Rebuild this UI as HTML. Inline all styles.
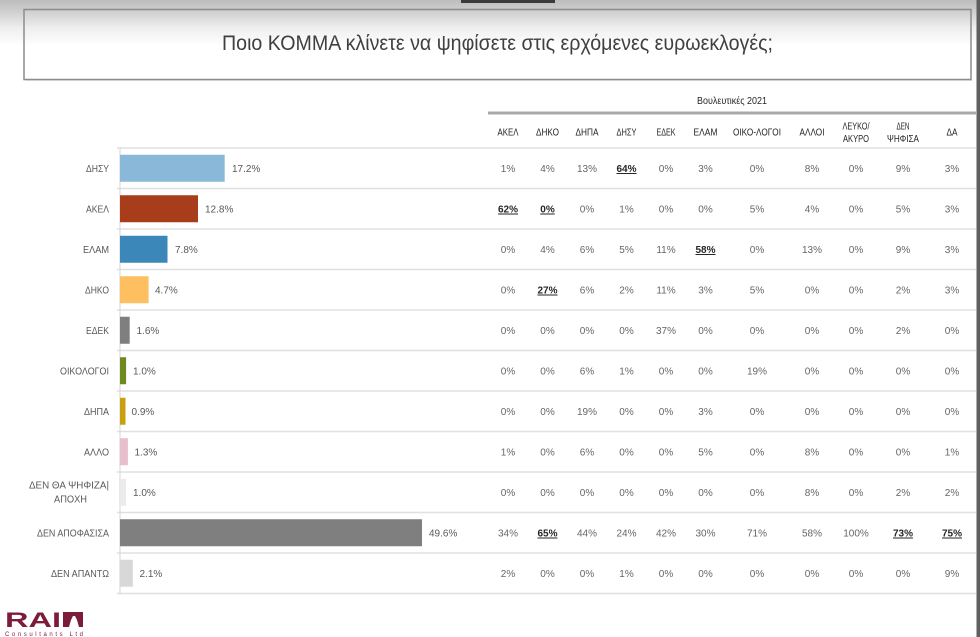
<!DOCTYPE html>
<html><head><meta charset="utf-8"><style>
html,body{margin:0;padding:0;background:#fff;}
svg{display:block;}
text{font-family:"Liberation Sans",sans-serif;}
.lab{font-size:10.5px;fill:#595959;text-anchor:end;}
.val{font-size:10px;fill:#595959;}
.cell{font-size:10px;fill:#666;text-anchor:middle;}
.b{font-weight:bold;fill:#262626;text-decoration:underline;}
.hd{font-size:10.5px;fill:#262626;text-anchor:middle;}
</style></head><body>
<svg width="980" height="637" viewBox="0 0 980 637" xmlns="http://www.w3.org/2000/svg">
<defs>
<linearGradient id="bg" x1="0" y1="0" x2="0" y2="1">
<stop offset="0" stop-color="#bdbdbd"/>
<stop offset="0.25" stop-color="#cfcfcf"/>
<stop offset="0.6" stop-color="#eeeeee"/>
<stop offset="1" stop-color="#ffffff"/>
</linearGradient>
</defs>
<rect x="0" y="0" width="980" height="637" fill="#fff"/>
<rect x="0" y="0" width="980" height="46" fill="url(#bg)"/>
<rect x="461" y="0" width="94" height="3" fill="#3a3a3a"/>
<rect x="976.5" y="0" width="3.5" height="637" fill="#5f5f5f"/>
<!-- title box -->
<rect x="24" y="9.5" width="947" height="70" fill="none" stroke="#8c8c8c" stroke-width="1.5"/>
<line x1="25" y1="80.5" x2="972" y2="80.5" stroke="#d0d0d0" stroke-width="1"/>
<text x="497.5" y="50" font-size="21" fill="#404040" text-anchor="middle" textLength="551" lengthAdjust="spacingAndGlyphs">Ποιο ΚΟΜΜΑ κλίνετε να ψηφίσετε στις ερχόμενες ευρωεκλογές;</text>

<!-- table header -->
<text x="732" y="104" font-size="10" fill="#262626" text-anchor="middle" textLength="70" lengthAdjust="spacingAndGlyphs">Βουλευτικές 2021</text>
<line x1="488" y1="113" x2="976" y2="113" stroke="#a8a8a8" stroke-width="3"/>
<text class="hd" x="508" y="135.5" textLength="21" lengthAdjust="spacingAndGlyphs">ΑΚΕΛ</text>
<text class="hd" x="547.5" y="135.5" textLength="23" lengthAdjust="spacingAndGlyphs">ΔΗΚΟ</text>
<text class="hd" x="587" y="135.5" textLength="23" lengthAdjust="spacingAndGlyphs">ΔΗΠΑ</text>
<text class="hd" x="626.5" y="135.5" textLength="20" lengthAdjust="spacingAndGlyphs">ΔΗΣΥ</text>
<text class="hd" x="666" y="135.5" textLength="19" lengthAdjust="spacingAndGlyphs">ΕΔΕΚ</text>
<text class="hd" x="705.5" y="135.5" textLength="24" lengthAdjust="spacingAndGlyphs">ΕΛΑΜ</text>
<text class="hd" x="757" y="135.5" textLength="48" lengthAdjust="spacingAndGlyphs">ΟΙΚΟ-ΛΟΓΟΙ</text>
<text class="hd" x="812" y="135.5" textLength="25" lengthAdjust="spacingAndGlyphs">ΑΛΛΟΙ</text>
<text class="hd" x="856" y="129.5" textLength="27" lengthAdjust="spacingAndGlyphs">ΛΕΥΚΟ/</text>
<text class="hd" x="856" y="142" textLength="26" lengthAdjust="spacingAndGlyphs">ΑΚΥΡΟ</text>
<text class="hd" x="903" y="129.5" textLength="13" lengthAdjust="spacingAndGlyphs">ΔΕΝ</text>
<text class="hd" x="903" y="142" textLength="32" lengthAdjust="spacingAndGlyphs">ΨΗΦΙΣΑ</text>
<text class="hd" x="952" y="135.5" textLength="11" lengthAdjust="spacingAndGlyphs">ΔΑ</text>

<!-- separators -->
<g stroke="#e0e0e0" stroke-width="1.5">
<line x1="117" y1="148" x2="976" y2="148"/>
<line x1="117" y1="188.5" x2="976" y2="188.5"/>
<line x1="117" y1="229" x2="976" y2="229"/>
<line x1="117" y1="269.5" x2="976" y2="269.5"/>
<line x1="117" y1="310" x2="976" y2="310"/>
<line x1="117" y1="350.5" x2="976" y2="350.5"/>
<line x1="117" y1="391" x2="976" y2="391"/>
<line x1="117" y1="431.5" x2="976" y2="431.5"/>
<line x1="117" y1="472" x2="976" y2="472"/>
<line x1="117" y1="512.5" x2="976" y2="512.5"/>
<line x1="117" y1="553" x2="976" y2="553"/>
<line x1="117" y1="593.5" x2="976" y2="593.5"/>
</g>
<line x1="120" y1="148" x2="120" y2="594" stroke="#d6d6d6" stroke-width="1"/>

<!-- bars -->
<rect x="120" y="154.75" width="104.7" height="27" fill="#8ab8d8"/>
<rect x="120" y="195.25" width="78" height="27" fill="#a73d1b"/>
<rect x="120" y="235.75" width="47.5" height="27" fill="#3b87b9"/>
<rect x="120" y="276.25" width="28.6" height="27" fill="#fdbf60"/>
<rect x="120" y="316.75" width="9.7" height="27" fill="#7f7f7f"/>
<rect x="120" y="357.25" width="6.1" height="27" fill="#6e8a1f"/>
<rect x="120" y="397.75" width="5.5" height="27" fill="#c9a00e"/>
<rect x="120" y="438.25" width="7.9" height="27" fill="#e6bfcb"/>
<rect x="120" y="478.75" width="6.1" height="27" fill="#ebebeb"/>
<rect x="120" y="519.25" width="302" height="27" fill="#7f7f7f"/>
<rect x="120" y="559.75" width="12.8" height="27" fill="#d8d8d8"/>

<!-- bar values -->
<text class="val" x="232" y="172">17.2%</text>
<text class="val" x="205" y="212.5">12.8%</text>
<text class="val" x="175" y="253">7.8%</text>
<text class="val" x="155" y="293.5">4.7%</text>
<text class="val" x="136.5" y="334">1.6%</text>
<text class="val" x="133" y="374.5">1.0%</text>
<text class="val" x="131.5" y="415">0.9%</text>
<text class="val" x="134.5" y="455.5">1.3%</text>
<text class="val" x="133" y="496">1.0%</text>
<text class="val" x="429" y="536.5">49.6%</text>
<text class="val" x="139.5" y="577">2.1%</text>

<!-- row labels -->
<text class="lab" x="109" y="172" textLength="23" lengthAdjust="spacingAndGlyphs">ΔΗΣΥ</text>
<text class="lab" x="109" y="212.5" textLength="23" lengthAdjust="spacingAndGlyphs">ΑΚΕΛ</text>
<text class="lab" x="109" y="253" textLength="26" lengthAdjust="spacingAndGlyphs">ΕΛΑΜ</text>
<text class="lab" x="109" y="293.5" textLength="24" lengthAdjust="spacingAndGlyphs">ΔΗΚΟ</text>
<text class="lab" x="109" y="334" textLength="23" lengthAdjust="spacingAndGlyphs">ΕΔΕΚ</text>
<text class="lab" x="109" y="374.5" textLength="49" lengthAdjust="spacingAndGlyphs">ΟΙΚΟΛΟΓΟΙ</text>
<text class="lab" x="109" y="415" textLength="25" lengthAdjust="spacingAndGlyphs">ΔΗΠΑ</text>
<text class="lab" x="109" y="455.5" textLength="25" lengthAdjust="spacingAndGlyphs">ΑΛΛΟ</text>
<text class="lab" x="109" y="488.5" textLength="80" lengthAdjust="spacingAndGlyphs">ΔΕΝ ΘΑ ΨΗΦΙΖΑ|</text>
<text class="lab" x="87" y="502.5" textLength="33" lengthAdjust="spacingAndGlyphs">ΑΠΟΧΗ</text>
<text class="lab" x="109" y="536.5" textLength="72" lengthAdjust="spacingAndGlyphs">ΔΕΝ ΑΠΟΦΑΣΙΣΑ</text>
<text class="lab" x="109" y="577" textLength="58" lengthAdjust="spacingAndGlyphs">ΔΕΝ ΑΠΑΝΤΩ</text>

<!-- table values -->
<g>
<text class="cell" x="508" y="172">1%</text><text class="cell" x="547.5" y="172">4%</text><text class="cell" x="587" y="172">13%</text><text class="cell b" x="626.5" y="172">64%</text><text class="cell" x="666" y="172">0%</text><text class="cell" x="705.5" y="172">3%</text><text class="cell" x="757" y="172">0%</text><text class="cell" x="812" y="172">8%</text><text class="cell" x="856" y="172">0%</text><text class="cell" x="903" y="172">9%</text><text class="cell" x="952" y="172">3%</text>

<text class="cell b" x="508" y="212.5">62%</text><text class="cell b" x="547.5" y="212.5">0%</text><text class="cell" x="587" y="212.5">0%</text><text class="cell" x="626.5" y="212.5">1%</text><text class="cell" x="666" y="212.5">0%</text><text class="cell" x="705.5" y="212.5">0%</text><text class="cell" x="757" y="212.5">5%</text><text class="cell" x="812" y="212.5">4%</text><text class="cell" x="856" y="212.5">0%</text><text class="cell" x="903" y="212.5">5%</text><text class="cell" x="952" y="212.5">3%</text>

<text class="cell" x="508" y="253">0%</text><text class="cell" x="547.5" y="253">4%</text><text class="cell" x="587" y="253">6%</text><text class="cell" x="626.5" y="253">5%</text><text class="cell" x="666" y="253">11%</text><text class="cell b" x="705.5" y="253">58%</text><text class="cell" x="757" y="253">0%</text><text class="cell" x="812" y="253">13%</text><text class="cell" x="856" y="253">0%</text><text class="cell" x="903" y="253">9%</text><text class="cell" x="952" y="253">3%</text>

<text class="cell" x="508" y="293.5">0%</text><text class="cell b" x="547.5" y="293.5">27%</text><text class="cell" x="587" y="293.5">6%</text><text class="cell" x="626.5" y="293.5">2%</text><text class="cell" x="666" y="293.5">11%</text><text class="cell" x="705.5" y="293.5">3%</text><text class="cell" x="757" y="293.5">5%</text><text class="cell" x="812" y="293.5">0%</text><text class="cell" x="856" y="293.5">0%</text><text class="cell" x="903" y="293.5">2%</text><text class="cell" x="952" y="293.5">3%</text>

<text class="cell" x="508" y="334">0%</text><text class="cell" x="547.5" y="334">0%</text><text class="cell" x="587" y="334">0%</text><text class="cell" x="626.5" y="334">0%</text><text class="cell" x="666" y="334">37%</text><text class="cell" x="705.5" y="334">0%</text><text class="cell" x="757" y="334">0%</text><text class="cell" x="812" y="334">0%</text><text class="cell" x="856" y="334">0%</text><text class="cell" x="903" y="334">2%</text><text class="cell" x="952" y="334">0%</text>

<text class="cell" x="508" y="374.5">0%</text><text class="cell" x="547.5" y="374.5">0%</text><text class="cell" x="587" y="374.5">6%</text><text class="cell" x="626.5" y="374.5">1%</text><text class="cell" x="666" y="374.5">0%</text><text class="cell" x="705.5" y="374.5">0%</text><text class="cell" x="757" y="374.5">19%</text><text class="cell" x="812" y="374.5">0%</text><text class="cell" x="856" y="374.5">0%</text><text class="cell" x="903" y="374.5">0%</text><text class="cell" x="952" y="374.5">0%</text>

<text class="cell" x="508" y="415">0%</text><text class="cell" x="547.5" y="415">0%</text><text class="cell" x="587" y="415">19%</text><text class="cell" x="626.5" y="415">0%</text><text class="cell" x="666" y="415">0%</text><text class="cell" x="705.5" y="415">3%</text><text class="cell" x="757" y="415">0%</text><text class="cell" x="812" y="415">0%</text><text class="cell" x="856" y="415">0%</text><text class="cell" x="903" y="415">0%</text><text class="cell" x="952" y="415">0%</text>

<text class="cell" x="508" y="455.5">1%</text><text class="cell" x="547.5" y="455.5">0%</text><text class="cell" x="587" y="455.5">6%</text><text class="cell" x="626.5" y="455.5">0%</text><text class="cell" x="666" y="455.5">0%</text><text class="cell" x="705.5" y="455.5">5%</text><text class="cell" x="757" y="455.5">0%</text><text class="cell" x="812" y="455.5">8%</text><text class="cell" x="856" y="455.5">0%</text><text class="cell" x="903" y="455.5">0%</text><text class="cell" x="952" y="455.5">1%</text>

<text class="cell" x="508" y="496">0%</text><text class="cell" x="547.5" y="496">0%</text><text class="cell" x="587" y="496">0%</text><text class="cell" x="626.5" y="496">0%</text><text class="cell" x="666" y="496">0%</text><text class="cell" x="705.5" y="496">0%</text><text class="cell" x="757" y="496">0%</text><text class="cell" x="812" y="496">8%</text><text class="cell" x="856" y="496">0%</text><text class="cell" x="903" y="496">2%</text><text class="cell" x="952" y="496">2%</text>

<text class="cell" x="508" y="536.5">34%</text><text class="cell b" x="547.5" y="536.5">65%</text><text class="cell" x="587" y="536.5">44%</text><text class="cell" x="626.5" y="536.5">24%</text><text class="cell" x="666" y="536.5">42%</text><text class="cell" x="705.5" y="536.5">30%</text><text class="cell" x="757" y="536.5">71%</text><text class="cell" x="812" y="536.5">58%</text><text class="cell" x="856" y="536.5">100%</text><text class="cell b" x="903" y="536.5">73%</text><text class="cell b" x="952" y="536.5">75%</text>

<text class="cell" x="508" y="577">2%</text><text class="cell" x="547.5" y="577">0%</text><text class="cell" x="587" y="577">0%</text><text class="cell" x="626.5" y="577">1%</text><text class="cell" x="666" y="577">0%</text><text class="cell" x="705.5" y="577">0%</text><text class="cell" x="757" y="577">0%</text><text class="cell" x="812" y="577">0%</text><text class="cell" x="856" y="577">0%</text><text class="cell" x="903" y="577">0%</text><text class="cell" x="952" y="577">9%</text>
</g>

<!-- logo -->
<text x="5" y="627" font-family="Liberation Serif, serif" font-weight="bold" font-size="21" fill="#7d1c3a" textLength="56" lengthAdjust="spacingAndGlyphs">RAI</text>
<path d="M63 612 L83 612 L83 627 L79 627 L77 620 L75 616 L73 616 L71 620 L69 627 L63 627 Z" fill="#7d1c3a"/>
<text x="5" y="636" font-size="6" fill="#7d1c3a" textLength="78" lengthAdjust="spacing">Consultants Ltd</text>
</svg>
</body></html>
